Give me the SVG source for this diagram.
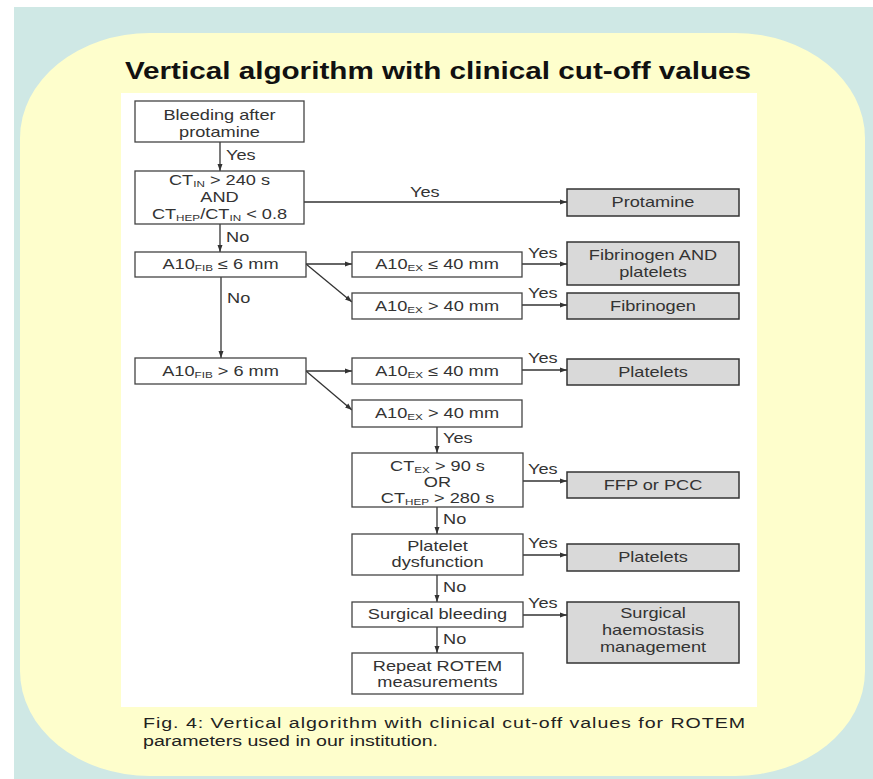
<svg xmlns="http://www.w3.org/2000/svg" width="873" height="779" viewBox="0 0 873 779">
<defs>
<style>
.t{font-family:"Liberation Sans",Arial,sans-serif;font-size:14px;fill:#333;text-anchor:middle}
.l{font-family:"Liberation Sans",Arial,sans-serif;font-size:14px;fill:#333}
.sub{font-size:9px}
.box{fill:#fff;stroke:#444;stroke-width:1.3}
.gbox{fill:#d9d9d9;stroke:#333;stroke-width:1.5}
.c{fill:none;stroke:#333;stroke-width:1.3}
.ttl{font-family:"Liberation Sans",Arial,sans-serif;font-size:23px;font-weight:bold;fill:#111;text-anchor:middle}
.cap{font-family:"Liberation Sans",Arial,sans-serif;font-size:14px;fill:#222}
</style>
<marker id="ah" markerWidth="7" markerHeight="6" refX="7" refY="3" orient="auto" markerUnits="userSpaceOnUse"><path d="M0,0.5 L7,3 L0,5.5 z" fill="#333"/></marker>
</defs>
<rect x="0" y="0" width="873" height="779" fill="#fff"/>
<rect x="14" y="7" width="859" height="772" fill="#cfe8e5"/>
<rect x="20" y="33" width="845" height="743" rx="130" ry="105" fill="#fefecc"/>
<rect x="121" y="93" width="636" height="614" fill="#fff"/>
<text class="ttl" transform="translate(438 79) scale(1.29 1)">Vertical algorithm with clinical cut-off values</text>

<g id="connectors">
<line class="c" x1="220" y1="142" x2="220" y2="171" marker-end="url(#ah)"/>
<line class="c" x1="304" y1="202" x2="567" y2="202" marker-end="url(#ah)"/>
<line class="c" x1="220" y1="224" x2="220" y2="252" marker-end="url(#ah)"/>
<line class="c" x1="306" y1="264" x2="352" y2="264" marker-end="url(#ah)"/>
<line class="c" x1="306" y1="264" x2="352" y2="302" marker-end="url(#ah)"/>
<line class="c" x1="221" y1="277" x2="221" y2="358" marker-end="url(#ah)"/>
<line class="c" x1="306" y1="371" x2="352" y2="371" marker-end="url(#ah)"/>
<line class="c" x1="306" y1="371" x2="352" y2="410" marker-end="url(#ah)"/>
<line class="c" x1="522" y1="264" x2="567" y2="264" marker-end="url(#ah)"/>
<line class="c" x1="522" y1="305" x2="567" y2="305" marker-end="url(#ah)"/>
<line class="c" x1="522" y1="370" x2="567" y2="370" marker-end="url(#ah)"/>
<line class="c" x1="437" y1="427" x2="437" y2="453" marker-end="url(#ah)"/>
<line class="c" x1="523" y1="481" x2="567" y2="481" marker-end="url(#ah)"/>
<line class="c" x1="437" y1="507" x2="437" y2="534" marker-end="url(#ah)"/>
<line class="c" x1="523" y1="555" x2="567" y2="555" marker-end="url(#ah)"/>
<line class="c" x1="437" y1="575" x2="437" y2="602" marker-end="url(#ah)"/>
<line class="c" x1="523" y1="615" x2="567" y2="615" marker-end="url(#ah)"/>
<line class="c" x1="437" y1="627" x2="437" y2="653" marker-end="url(#ah)"/>
<text class="l" transform="translate(226 160) scale(1.3 1)">Yes</text>
<text class="l" transform="translate(410 197) scale(1.3 1)">Yes</text>
<text class="l" transform="translate(226 242) scale(1.3 1)">No</text>
<text class="l" transform="translate(227 303) scale(1.3 1)">No</text>
<text class="l" transform="translate(528 258) scale(1.3 1)">Yes</text>
<text class="l" transform="translate(528 298) scale(1.3 1)">Yes</text>
<text class="l" transform="translate(528 363) scale(1.3 1)">Yes</text>
<text class="l" transform="translate(443 443) scale(1.3 1)">Yes</text>
<text class="l" transform="translate(528 474) scale(1.3 1)">Yes</text>
<text class="l" transform="translate(443 524) scale(1.3 1)">No</text>
<text class="l" transform="translate(528 548) scale(1.3 1)">Yes</text>
<text class="l" transform="translate(443 592) scale(1.3 1)">No</text>
<text class="l" transform="translate(528 608) scale(1.3 1)">Yes</text>
<text class="l" transform="translate(443 644) scale(1.3 1)">No</text>
</g>

<g id="n-bleeding">
<rect class="box" x="135" y="101" width="169" height="41"/>
<text class="t" transform="translate(219.5 120) scale(1.3 1)">Bleeding after</text>
<text class="t" transform="translate(219.5 137) scale(1.3 1)">protamine</text>
</g>
<g id="n-ctin">
<rect class="box" x="135" y="171" width="169" height="53"/>
<text class="t" transform="translate(219.5 185) scale(1.3 1)">CT<tspan class="sub" dy="2">IN</tspan><tspan dy="-2"> &gt; 240 s</tspan></text>
<text class="t" transform="translate(219.5 202) scale(1.3 1)">AND</text>
<text class="t" transform="translate(219.5 219) scale(1.3 1)">CT<tspan class="sub" dy="2">HEP</tspan><tspan dy="-2">/CT</tspan><tspan class="sub" dy="2">IN</tspan><tspan dy="-2"> &lt; 0.8</tspan></text>
</g>
<g id="n-fib-le">
<rect class="box" x="135" y="252" width="171" height="25"/>
<text class="t" transform="translate(220.5 269) scale(1.3 1)">A10<tspan class="sub" dy="2">FIB</tspan><tspan dy="-2"> ≤ 6 mm</tspan></text>
</g>
<g id="n-fib-gt">
<rect class="box" x="135" y="358" width="171" height="26"/>
<text class="t" transform="translate(220.5 376) scale(1.3 1)">A10<tspan class="sub" dy="2">FIB</tspan><tspan dy="-2"> &gt; 6 mm</tspan></text>
</g>
<g id="n-ex-le-1">
<rect class="box" x="352" y="252" width="170" height="25"/>
<text class="t" transform="translate(437 269) scale(1.3 1)">A10<tspan class="sub" dy="2">EX</tspan><tspan dy="-2"> ≤ 40 mm</tspan></text>
</g>
<g id="n-ex-gt-1">
<rect class="box" x="352" y="293" width="170" height="26"/>
<text class="t" transform="translate(437 311) scale(1.3 1)">A10<tspan class="sub" dy="2">EX</tspan><tspan dy="-2"> &gt; 40 mm</tspan></text>
</g>
<g id="n-ex-le-2">
<rect class="box" x="352" y="358" width="170" height="26"/>
<text class="t" transform="translate(437 376) scale(1.3 1)">A10<tspan class="sub" dy="2">EX</tspan><tspan dy="-2"> ≤ 40 mm</tspan></text>
</g>
<g id="n-ex-gt-2">
<rect class="box" x="352" y="400" width="170" height="27"/>
<text class="t" transform="translate(437 418) scale(1.3 1)">A10<tspan class="sub" dy="2">EX</tspan><tspan dy="-2"> &gt; 40 mm</tspan></text>
</g>
<g id="n-ctex">
<rect class="box" x="352" y="453" width="171" height="54"/>
<text class="t" transform="translate(437.5 471) scale(1.3 1)">CT<tspan class="sub" dy="2">EX</tspan><tspan dy="-2"> &gt; 90 s</tspan></text>
<text class="t" transform="translate(437.5 487) scale(1.3 1)">OR</text>
<text class="t" transform="translate(437.5 503) scale(1.3 1)">CT<tspan class="sub" dy="2">HEP</tspan><tspan dy="-2"> &gt; 280 s</tspan></text>
</g>
<g id="n-platelet-dys">
<rect class="box" x="352" y="534" width="171" height="41"/>
<text class="t" transform="translate(437.5 551) scale(1.3 1)">Platelet</text>
<text class="t" transform="translate(437.5 567) scale(1.3 1)">dysfunction</text>
</g>
<g id="n-surg-bleed">
<rect class="box" x="352" y="602" width="171" height="25"/>
<text class="t" transform="translate(437.5 619) scale(1.3 1)">Surgical bleeding</text>
</g>
<g id="n-repeat">
<rect class="box" x="352" y="653" width="171" height="41"/>
<text class="t" transform="translate(437.5 671) scale(1.3 1)">Repeat ROTEM</text>
<text class="t" transform="translate(437.5 687) scale(1.3 1)">measurements</text>
</g>

<g id="o-protamine">
<rect class="gbox" x="567" y="189" width="172" height="27"/>
<text class="t" transform="translate(653 207) scale(1.3 1)">Protamine</text>
</g>
<g id="o-fib-plt">
<rect class="gbox" x="567" y="242" width="172" height="43"/>
<text class="t" transform="translate(653 260) scale(1.3 1)">Fibrinogen AND</text>
<text class="t" transform="translate(653 277) scale(1.3 1)">platelets</text>
</g>
<g id="o-fib">
<rect class="gbox" x="567" y="293" width="172" height="26"/>
<text class="t" transform="translate(653 311) scale(1.3 1)">Fibrinogen</text>
</g>
<g id="o-plt-1">
<rect class="gbox" x="567" y="359" width="172" height="26"/>
<text class="t" transform="translate(653 377) scale(1.3 1)">Platelets</text>
</g>
<g id="o-ffp">
<rect class="gbox" x="567" y="472" width="172" height="26"/>
<text class="t" transform="translate(653 490) scale(1.3 1)">FFP or PCC</text>
</g>
<g id="o-plt-2">
<rect class="gbox" x="567" y="544" width="172" height="27"/>
<text class="t" transform="translate(653 562) scale(1.3 1)">Platelets</text>
</g>
<g id="o-surgical">
<rect class="gbox" x="567" y="602" width="172" height="61"/>
<text class="t" transform="translate(653 618) scale(1.3 1)">Surgical</text>
<text class="t" transform="translate(653 635) scale(1.3 1)">haemostasis</text>
<text class="t" transform="translate(653 652) scale(1.3 1)">management</text>
</g>

<text class="cap" transform="translate(143 728) scale(1.4 1)" textLength="430" lengthAdjust="spacing">Fig. 4: Vertical algorithm with clinical cut-off values for ROTEM</text>
<text class="cap" transform="translate(143 746) scale(1.4 1)">parameters used in our institution.</text>
</svg>
